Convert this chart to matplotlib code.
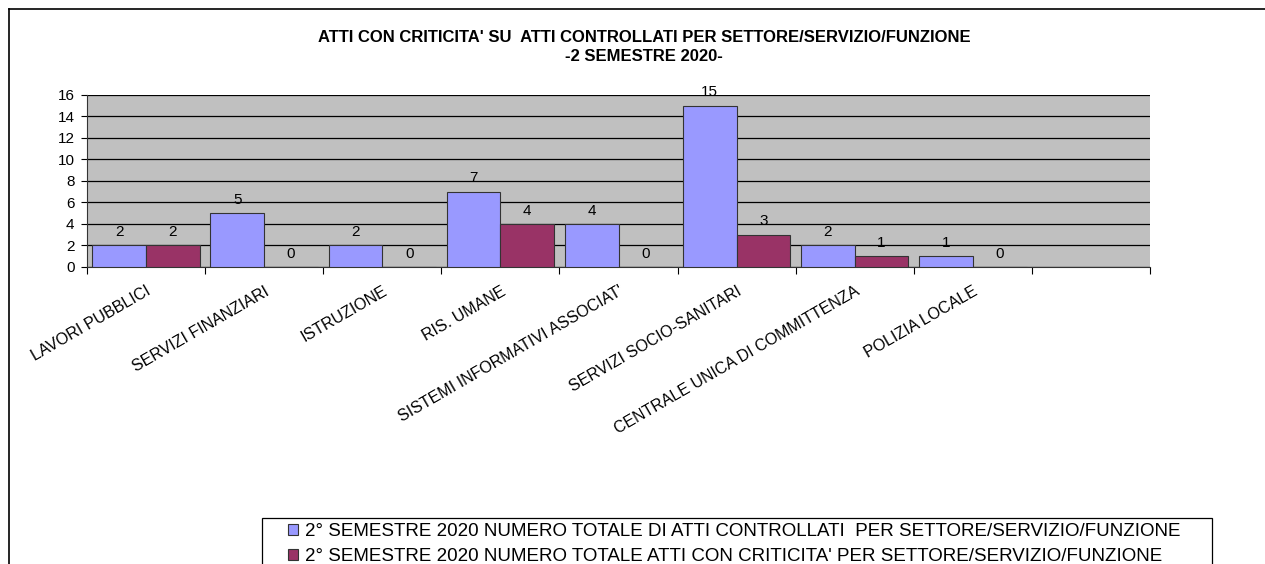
import matplotlib
matplotlib.use("Agg")
import matplotlib.pyplot as plt
from matplotlib.lines import Line2D
from matplotlib.patches import Rectangle
import numpy as np

plt.rcParams['font.family'] = ['Liberation Sans', 'DejaVu Sans']

categories = ["LAVORI PUBBLICI", "SERVIZI FINANZIARI", "ISTRUZIONE", "RIS. UMANE",
              "SISTEMI INFORMATIVI ASSOCIAT'", "SERVIZI SOCIO-SANITARI",
              "CENTRALE UNICA DI COMMITTENZA", "POLIZIA LOCALE"]
controllati = [2, 5, 2, 7, 4, 15, 2, 1]
criticita = [2, 0, 0, 4, 0, 3, 1, 0]
series_names = ["2° SEMESTRE 2020 NUMERO TOTALE DI ATTI CONTROLLATI  PER SETTORE/SERVIZIO/FUNZIONE",
                "2° SEMESTRE 2020 NUMERO TOTALE ATTI CON CRITICITA' PER SETTORE/SERVIZIO/FUNZIONE"]
title = "ATTI CON CRITICITA' SU  ATTI CONTROLLATI PER SETTORE/SERVIZIO/FUNZIONE\n-2 SEMESTRE 2020-"
n_slots = 9

W, H = 1265, 564
fig = plt.figure(figsize=(W/100, H/100), dpi=100)
ax = fig.add_axes([87/W, 1-267/H, (1150-87)/W, (267-95)/H])
ax.set_facecolor('#C0C0C0')

x = np.arange(len(categories))
bw = 0.455
b1 = ax.bar(x - bw/2, controllati, bw, color='#9999FF', edgecolor='#333333', linewidth=0.8, zorder=3)
b2 = ax.bar(x + bw/2, criticita, bw, color='#993366', edgecolor='#333333', linewidth=0.8, zorder=3)

for bars, vals in ((b1, controllati), (b2, criticita)):
    for r, v in zip(bars, vals):
        ax.annotate(str(v), (r.get_x() + r.get_width()/2, v), xytext=(0, 4.5),
                    textcoords='offset points', ha='center', va='bottom', fontsize=11)

ax.set_xlim(-0.5, n_slots - 0.5)
ax.set_ylim(0, 16)
ax.set_yticks(range(0, 17, 2))
ax.tick_params(axis='y', labelsize=11, length=4, width=0.8, pad=5)
ax.yaxis.grid(True, color='black', linewidth=0.9, zorder=1)
ax.set_axisbelow(True)

ax.set_xticks(np.arange(n_slots + 1) - 0.5)
ax.set_xticklabels([])
ax.tick_params(axis='x', length=5, width=0.8)
ax.set_xticks(x, minor=True)
ax.set_xticklabels(categories, minor=True, rotation=30, ha='right', va='top',
                   rotation_mode='anchor', fontsize=11.5)
ax.tick_params(axis='x', which='minor', length=0, pad=12)

for s in ['top', 'right']:
    ax.spines[s].set_visible(False)
ax.spines['left'].set_color('#333333')
ax.spines['bottom'].set_color('#333333')

fig.text(644/W, 1-47/H, title, ha='center', va='center', fontsize=12, fontweight='bold',
         linespacing=1.3)

leg = fig.legend([b1, b2], series_names, loc='upper left',
                 bbox_to_anchor=(288/W, 1-523/H), fontsize=13.5, frameon=False,
                 handlelength=0.55, handleheight=0.55,
                 handletextpad=0.35, borderaxespad=0, labelspacing=0.42, borderpad=0)
fig.add_artist(Rectangle((262/W, -0.05), (1212-262)/W, 0.05 + (564-518)/H,
                         transform=fig.transFigure, fill=False, edgecolor='black',
                         linewidth=0.9))

fig.add_artist(Line2D([9/W, 9/W], [0, 1-9/H], color='black', linewidth=1.2))
fig.add_artist(Line2D([9/W, 1], [1-9/H, 1-9/H], color='black', linewidth=1.2))

fig.savefig('out.png', dpi=100)
